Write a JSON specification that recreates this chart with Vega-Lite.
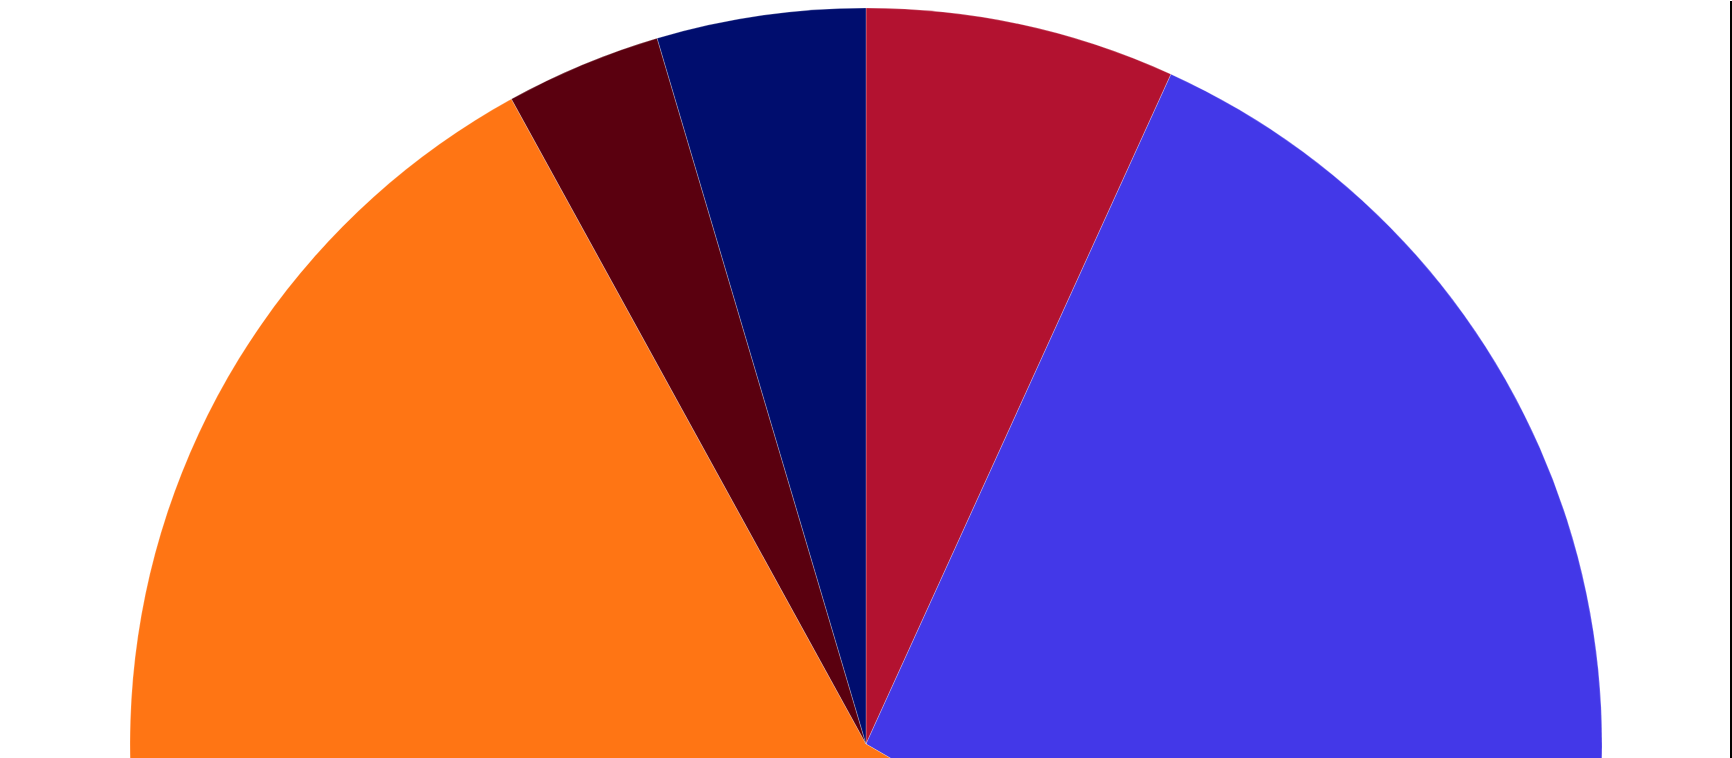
{
  "$schema": "https://vega.github.io/schema/vega-lite/v6.json",
  "width": 1732,
  "height": 1486,
  "padding": 0,
  "background": "white",
  "layer": [
    {
      "data": {
        "values": [
          {"slice": "Slice 1", "share": 6.8},
          {"slice": "Slice 2", "share": 26.55},
          {"slice": "Slice 3", "share": 58.65},
          {"slice": "Slice 4", "share": 3.42},
          {"slice": "Slice 5", "share": 4.58}
        ]
      },
      "mark": {"type": "arc", "radius": 736, "stroke": "#ffffff", "strokeWidth": 0.4, "strokeOpacity": 0.6},
      "encoding": {
        "theta": {"field": "share", "type": "quantitative", "stack": true},
        "color": {
          "field": "slice",
          "type": "nominal",
          "legend": null,
          "scale": {
            "domain": ["Slice 1", "Slice 2", "Slice 3", "Slice 4", "Slice 5"],
            "range": ["#b31230", "#4338e8", "#ff7514", "#5a000f", "#000d6e"]
          }
        },
        "order": {"field": "slice", "sort": "ascending"}
      }
    },
    {
      "data": {"values": [{"edge": 1731}]},
      "mark": {"type": "rule", "color": "black", "strokeWidth": 2},
      "encoding": {
        "x": {"field": "edge", "type": "quantitative", "scale": {"domain": [0, 1732]}, "axis": null}
      }
    }
  ],
  "config": {
    "view": {"stroke": null}
  }
}
